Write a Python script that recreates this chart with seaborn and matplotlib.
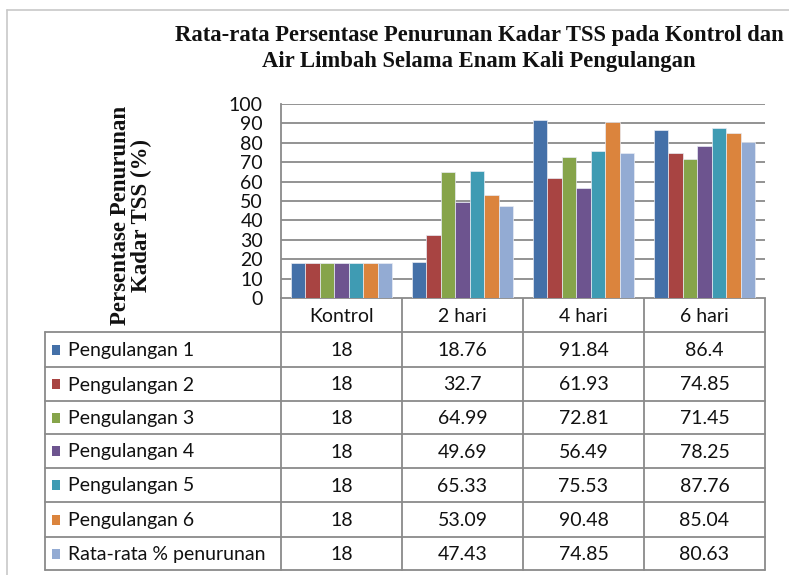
import matplotlib
matplotlib.use("Agg")
import matplotlib.pyplot as plt
import seaborn as sns
import pandas as pd
from matplotlib.patches import Rectangle

categories = ["Kontrol", "2 hari", "4 hari", "6 hari"]
series_names = ["Pengulangan 1", "Pengulangan 2", "Pengulangan 3", "Pengulangan 4",
                "Pengulangan 5", "Pengulangan 6", "Rata-rata % penurunan"]
pengulangan_1 = [18, 18.76, 91.84, 86.4]
pengulangan_2 = [18, 32.7, 61.93, 74.85]
pengulangan_3 = [18, 64.99, 72.81, 71.45]
pengulangan_4 = [18, 49.69, 56.49, 78.25]
pengulangan_5 = [18, 65.33, 75.53, 87.76]
pengulangan_6 = [18, 53.09, 90.48, 85.04]
rata_rata = [18, 47.43, 74.85, 80.63]
table_labels = [["18", "18.76", "91.84", "86.4"],
                ["18", "32.7", "61.93", "74.85"],
                ["18", "64.99", "72.81", "71.45"],
                ["18", "49.69", "56.49", "78.25"],
                ["18", "65.33", "75.53", "87.76"],
                ["18", "53.09", "90.48", "85.04"],
                ["18", "47.43", "74.85", "80.63"]]
yticks = [0, 10, 20, 30, 40, 50, 60, 70, 80, 90, 100]

all_series = [pengulangan_1, pengulangan_2, pengulangan_3, pengulangan_4,
              pengulangan_5, pengulangan_6, rata_rata]
colors = ["#4470A8", "#A84442", "#86A44A", "#6D548F", "#3F9BB3", "#DB843D", "#93ABD3"]

rows = []
for name, vals in zip(series_names, all_series):
    for c, v in zip(categories, vals):
        rows.append({"kategori": c, "seri": name, "nilai": v})
df = pd.DataFrame(rows)

sns.set_theme(style="white")
plt.rcParams["font.family"] = ["Lato", "DejaVu Sans"]

W, H = 789, 575
fig = plt.figure(figsize=(W / 100, H / 100), dpi=100)

# pixel layout
pl, pr, pt, pb = 281, 765, 104, 298
ax = fig.add_axes([pl / W, 1 - pb / H, (pr - pl) / W, (pb - pt) / H])
sns.barplot(data=df, x="kategori", y="nilai", hue="seri", palette=colors,
            order=categories, hue_order=series_names, width=0.835,
            saturation=1, edgecolor="#e8ecf4", linewidth=0.5, legend=False, ax=ax)
ax.set_ylim(0, 100)
ax.set_xlim(-0.5, 3.5)
ax.set_yticks(yticks)
ax.set_yticklabels([str(t) for t in yticks], fontsize=14, color="#111111")
ax.set_xticks([])
ax.set_xlabel("")
ax.set_ylabel("")
ax.yaxis.grid(True, color="#8a8a8a", linewidth=1.3)
ax.set_axisbelow(True)
for s in ["top", "right", "bottom"]:
    ax.spines[s].set_visible(False)
ax.spines["left"].set_color("#8a8a8a")
ax.spines["left"].set_linewidth(1.3)
ax.tick_params(axis="y", length=0, pad=13)

# overlay in pixel coordinates for title, labels and data table
ov = fig.add_axes([0, 0, 1, 1], zorder=-1)
ov.set_xlim(0, W)
ov.set_ylim(H, 0)
ov.axis("off")

# outer chart frame
ov.plot([7, 7], [10, H], color="#c8c8c8", lw=1.2)
ov.plot([7, W], [10, 10], color="#c8c8c8", lw=1.2)

serif = ["Liberation Serif", "DejaVu Serif"]
fig.text(479 / W, 1 - 35 / H, "Rata-rata Persentase Penurunan Kadar TSS pada Kontrol dan",
         ha="center", va="center", fontsize=16.3, fontweight="bold",
         family=serif, color="#111111")
fig.text(479 / W, 1 - 61 / H, "Air Limbah Selama Enam Kali Pengulangan",
         ha="center", va="center", fontsize=16.3, fontweight="bold",
         family=serif, color="#111111")
fig.text(131 / W, 1 - 215 / H, "Persentase Penurunan\nKadar TSS (%)",
         ha="center", va="center", rotation=90, fontsize=16.5, fontweight="bold",
         family=serif, color="#111111", linespacing=1.0)

# table
gc = "#8a8a8a"
col_x = [281, 402, 523, 644, 765]
row_y = [298, 332, 367, 401, 434, 468, 502, 537, 570]
tl = 45
ov.plot([col_x[0], col_x[-1]], [row_y[0], row_y[0]], color=gc, lw=1.3)
for x in col_x:
    ov.plot([x, x], [row_y[0], row_y[-1]], color=gc, lw=1.3)
ov.plot([tl, tl], [row_y[1], row_y[-1]], color=gc, lw=1.3)
for y in row_y[1:]:
    ov.plot([tl, col_x[-1]], [y, y], color=gc, lw=1.3)

fs = 14
for j, c in enumerate(categories):
    ov.text((col_x[j] + col_x[j + 1]) / 2, (row_y[0] + row_y[1]) / 2 + 1, c,
            ha="center", va="center", fontsize=fs, color="#111111")
for i, name in enumerate(series_names):
    yc = (row_y[i + 1] + row_y[i + 2]) / 2
    ov.add_patch(Rectangle((52, yc - 5), 8, 10, facecolor=colors[i], edgecolor="none"))
    ov.text(68, yc + 1, name, ha="left", va="center", fontsize=fs, color="#111111")
    for j in range(len(categories)):
        ov.text((col_x[j] + col_x[j + 1]) / 2, yc + 1, table_labels[i][j],
                ha="center", va="center", fontsize=fs, color="#111111")

fig.savefig("out.png", dpi=100, facecolor="white")
